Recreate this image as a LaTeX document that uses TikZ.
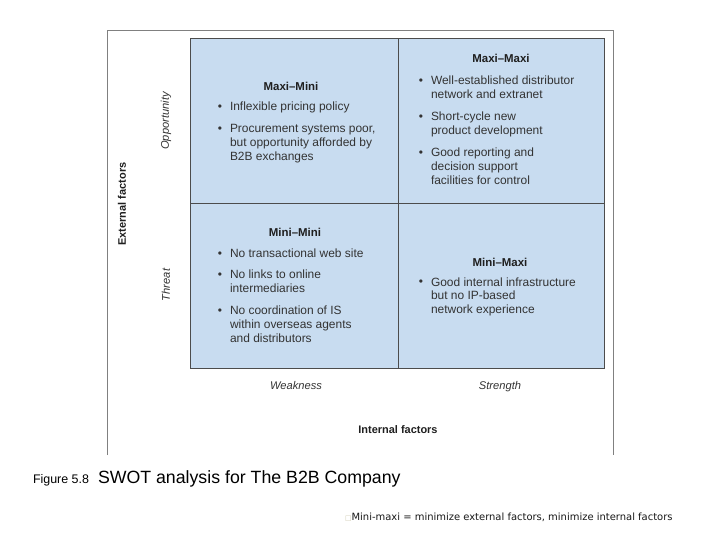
\documentclass[tikz,border=0pt]{standalone}
\usepackage{fontspec}
\setmainfont{Liberation Sans}
\newfontfamily\dejavu{DejaVu Sans}
\definecolor{cellblue}{HTML}{C8DCF0}
\definecolor{gridline}{HTML}{4C4C4C}
\definecolor{framegray}{HTML}{808080}
\definecolor{bodytext}{HTML}{333333}
\definecolor{boxcol}{HTML}{CFCBB0}
\newcommand{\firstline}{\rule{0pt}{9bp}}
\begin{document}
\begin{tikzpicture}[x=1bp,y=-1bp,
  every node/.style={inner sep=0pt, outer sep=0pt},
  celltitle/.style={font=\fontsize{11.5}{14}\selectfont\bfseries, text=black!88, anchor=base},
  itemtext/.style={font=\fontsize{12}{14}\selectfont, text=bodytext, anchor=north west, align=left},
  bulletmark/.style={font=\fontsize{12}{14}\selectfont, text=bodytext, anchor=base},
  axislabel/.style={font=\fontsize{11.2}{13}\selectfont\itshape, text=bodytext},
  factorlabel/.style={font=\fontsize{11}{13}\selectfont\bfseries, text=black!88},
  framestyle/.style={draw=framegray, line width=0.8bp},
  gridstyle/.style={draw=gridline, line width=1bp},
]
\useasboundingbox[fill=white] (0,0) rectangle (720,540);

% outer frame (open at bottom)
\draw[framestyle] (107,455) -- (107,30) -- (613,30) -- (613,455);

% quadrant grid
\fill[cellblue] (190,39) rectangle (604,368);
\draw[gridstyle] (190,39) rectangle (604,368);
\draw[gridstyle] (398,39) -- (398,368);
\draw[gridstyle] (190,204) -- (604,204);

% Maxi-Mini (top left)
\node[celltitle] (tlT) at (291,90.5) {Maxi–Mini};
\node[bulletmark] (tlb1) at (220,110.5) {•};
\node[itemtext] (tl1) at (230,101.5) {\firstline Inflexible pricing policy};
\node[bulletmark] (tlb2) at (220,132.5) {•};
\node[itemtext] (tl2) at (230,123.5) {\firstline Procurement systems poor,\\but opportunity afforded by\\B2B exchanges};

% Maxi-Maxi (top right)
\node[celltitle] (trT) at (501,62.5) {Maxi–Maxi};
\node[bulletmark] (trb1) at (421,84.5) {•};
\node[itemtext] (tr1) at (431,75.5) {\firstline Well-established distributor\\network and extranet};
\node[bulletmark] (trb2) at (421,120.5) {•};
\node[itemtext] (tr2) at (431,111.5) {\firstline Short-cycle new\\product development};
\node[bulletmark] (trb3) at (421,156.5) {•};
\node[itemtext] (tr3) at (431,147.5) {\firstline Good reporting and\\decision support\\facilities for control};

% Mini-Mini (bottom left)
\node[celltitle] (blT) at (295,236.5) {Mini–Mini};
\node[bulletmark] (blb1) at (220,257.5) {•};
\node[itemtext] (bl1) at (230,248.5) {\firstline No transactional web site};
\node[bulletmark] (blb2) at (220,279) {•};
\node[itemtext] (bl2) at (230,270) {\firstline No links to online\\intermediaries};
\node[bulletmark] (blb3) at (220,314.5) {•};
\node[itemtext] (bl3) at (230,305.5) {\firstline No coordination of IS\\within overseas agents\\and distributors};

% Mini-Maxi (bottom right)
\node[celltitle] (brT) at (500,266.5) {Mini–Maxi};
\node[bulletmark] (brb1) at (421,286) {•};
\node[itemtext] (br1) at (431,277) {\firstline Good internal infrastructure\\but no IP-based\\network experience};

% axis labels
\node[axislabel, rotate=90] (opp) at (166,121) {Opportunity};
\node[axislabel, rotate=90] (thr) at (166,285) {Threat};
\node[factorlabel, rotate=90] (ext) at (122,204) {External factors};
\node[axislabel, anchor=base] (weak) at (296,389) {Weakness};
\node[axislabel, anchor=base] (str) at (500,389) {Strength};
\node[factorlabel, anchor=base] (int) at (398,433) {Internal factors};

% caption
\node[anchor=base west, font=\fontsize{12.5}{14}\selectfont, text=black] (fig) at (33,483) {Figure 5.8};
\node[anchor=base west, font=\fontsize{17.8}{20}\selectfont, text=black] (cap) at (98,483) {SWOT analysis for The B2B Company};

% footnote
\node[anchor=base west, font=\dejavu\fontsize{10}{12}\selectfont, text=black!90] (note) at (345,520)
  {{\color{boxcol}\fontsize{7}{8}\selectfont □}Mini-maxi = minimize external factors, minimize internal factors};
\end{tikzpicture}
\end{document}
